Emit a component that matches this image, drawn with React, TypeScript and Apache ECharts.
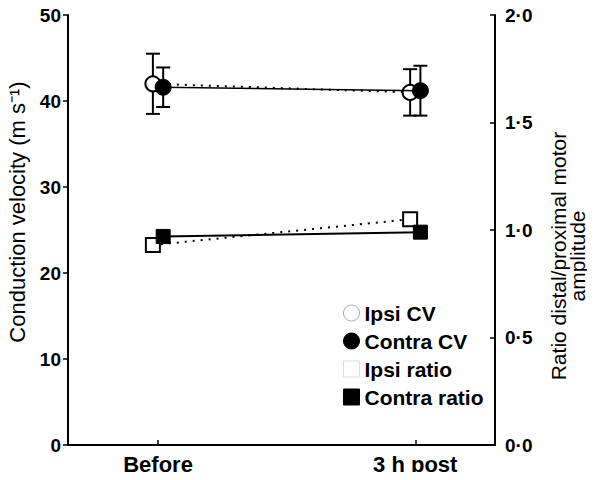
import React, { useEffect, useRef } from "react";
import * as echarts from "echarts";

const categories = ["Before", "3 h post"];
const categoryPos = [0, 1];
const ipsiX = [-0.02, 0.98];
const contraX = [0.02, 1.02];

const ipsiCV = [42.0, 41.0];
const ipsiCVErr = [3.5, 2.7];
const contraCV = [41.6, 41.2];
const contraCVErr = [2.3, 2.9];

const ipsiRatio = [0.93, 1.05];
const contraRatio = [0.97, 0.99];

const leftTicks = [0, 10, 20, 30, 40, 50];
const rightTicks = [0, 0.5, 1.0, 1.5, 2.0];

const FONT = "'Liberation Sans', Arial, Helvetica, sans-serif";

export default function App() {
  const ref = useRef<HTMLDivElement>(null);
  useEffect(() => {
    if (!ref.current) return;
    const chart = echarts.init(ref.current, null, { renderer: "svg" });

    const errData = [
      ...ipsiX.map((x, i) => [x, ipsiCV[i] - ipsiCVErr[i], ipsiCV[i] + ipsiCVErr[i]]),
      ...contraX.map((x, i) => [x, contraCV[i] - contraCVErr[i], contraCV[i] + contraCVErr[i]]),
    ];

    const option: any = {
      animation: false,
      backgroundColor: "#fff",
      textStyle: { fontFamily: FONT },
      grid: { left: 68, right: 100, top: 15, bottom: 35, containLabel: false, outerBoundsMode: "none" },
      xAxis: {
        type: "value",
        min: -0.35,
        max: 1.31,
        splitLine: { show: false },
        axisLine: { lineStyle: { color: "#000", width: 2 } },
        axisTick: {
          show: true,
          inside: true,
          length: 5,
          customValues: categoryPos,
          lineStyle: { color: "#000", width: 1.5 },
        },
        axisLabel: {
          customValues: categoryPos,
          formatter: (v: number) => categories[Math.round(v)] ?? "",
          color: "#000",
          fontWeight: "bold",
          fontSize: 22,
          fontFamily: FONT,
          margin: 8,
        },
      },
      yAxis: [
        {
          type: "value",
          min: 0,
          max: 50,
          interval: 10,
          position: "left",
          name: "Conduction velocity (m s\u207B\u00B9)",
          nameLocation: "middle",
          nameGap: 36,
          nameRotate: 90,
          nameTextStyle: { color: "#000", fontSize: 22, fontFamily: FONT, padding: [0, 0, 0, 36] },
          splitLine: { show: false },
          axisLine: { show: true, onZero: false, lineStyle: { color: "#000", width: 2 } },
          axisTick: { show: true, length: 5, lineStyle: { color: "#000", width: 1.5 } },
          axisLabel: {
            color: "#000",
            fontWeight: "bold",
            fontSize: 19,
            fontFamily: FONT,
            margin: 7,
            formatter: (v: number) => (leftTicks.includes(v) ? String(v) : ""),
          },
        },
        {
          type: "value",
          min: 0,
          max: 2,
          interval: 0.5,
          position: "right",
          name: "Ratio distal/proximal motor\namplitude",
          nameLocation: "middle",
          nameGap: 54,
          nameRotate: 90,
          nameTextStyle: { color: "#000", fontSize: 21, fontFamily: FONT, lineHeight: 19, padding: [0, 52, 0, 0] },
          splitLine: { show: false },
          axisLine: { show: true, onZero: false, lineStyle: { color: "#000", width: 2 } },
          axisTick: { show: true, inside: true, length: 5, lineStyle: { color: "#000", width: 1.5 } },
          axisLabel: {
            color: "#000",
            fontWeight: "bold",
            fontSize: 19,
            fontFamily: FONT,
            margin: 10,
            formatter: (v: number) =>
              rightTicks.some((t) => Math.abs(t - v) < 1e-6) ? v.toFixed(1).replace(".", "\u00B7") : "",
          },
        },
      ],
      legend: {
        orient: "vertical",
        left: 338,
        top: 297,
        itemGap: 6,
        itemWidth: 16,
        itemHeight: 16,
        textStyle: { color: "#000", fontSize: 21, fontWeight: "bold", fontFamily: FONT, lineHeight: 22 },
        data: [
          { name: "Ipsi CV", icon: "circle", itemStyle: { color: "#fff", borderColor: "#aaa", borderWidth: 1 } },
          { name: "Contra CV", icon: "circle", itemStyle: { color: "#000", borderColor: "#000", borderWidth: 1 } },
          { name: "Ipsi ratio", icon: "rect", itemStyle: { color: "#fff", borderColor: "#ddd", borderWidth: 1 } },
          { name: "Contra ratio", icon: "rect", itemStyle: { color: "#000", borderColor: "#000", borderWidth: 1 } },
        ],
      },
      series: [
        {
          type: "custom",
          name: "err",
          yAxisIndex: 0,
          data: errData,
          z: 1,
          renderItem: (params: any, api: any) => {
            const x = api.value(0);
            const lo = api.coord([x, api.value(1)]);
            const hi = api.coord([x, api.value(2)]);
            const hw = 7;
            const style = { stroke: "#000", lineWidth: 2 };
            return {
              type: "group",
              children: [
                { type: "line", shape: { x1: lo[0], y1: lo[1], x2: hi[0], y2: hi[1] }, style },
                { type: "line", shape: { x1: lo[0] - hw, y1: lo[1], x2: lo[0] + hw, y2: lo[1] }, style },
                { type: "line", shape: { x1: hi[0] - hw, y1: hi[1], x2: hi[0] + hw, y2: hi[1] }, style },
              ],
            };
          },
        },
        {
          type: "line",
          name: "Ipsi CV",
          yAxisIndex: 0,
          data: ipsiX.map((x, i) => [x, ipsiCV[i]]),
          symbol: "circle",
          symbolSize: 15,
          z: 3,
          lineStyle: { color: "#000", width: 2, type: [2, 6] },
          itemStyle: { color: "#fff", borderColor: "#000", borderWidth: 2 },
        },
        {
          type: "line",
          name: "Contra CV",
          yAxisIndex: 0,
          data: contraX.map((x, i) => [x, contraCV[i]]),
          symbol: "circle",
          symbolSize: 16,
          z: 4,
          lineStyle: { color: "#000", width: 1.5 },
          itemStyle: { color: "#000", borderColor: "#000", borderWidth: 1 },
        },
        {
          type: "line",
          name: "Ipsi ratio",
          yAxisIndex: 1,
          data: ipsiX.map((x, i) => [x, ipsiRatio[i]]),
          symbol: "rect",
          symbolSize: 14,
          z: 3,
          lineStyle: { color: "#000", width: 2, type: [2, 6] },
          itemStyle: { color: "#fff", borderColor: "#000", borderWidth: 2 },
        },
        {
          type: "line",
          name: "Contra ratio",
          yAxisIndex: 1,
          data: contraX.map((x, i) => [x, contraRatio[i]]),
          symbol: "rect",
          symbolSize: 14,
          z: 4,
          lineStyle: { color: "#000", width: 2 },
          itemStyle: { color: "#000", borderColor: "#000", borderWidth: 1 },
        },
      ],
    };
    chart.setOption(option);
    return () => chart.dispose();
  }, []);
  return <div ref={ref} style={{ width: 595, height: 480, margin: -8 }} />;
}
